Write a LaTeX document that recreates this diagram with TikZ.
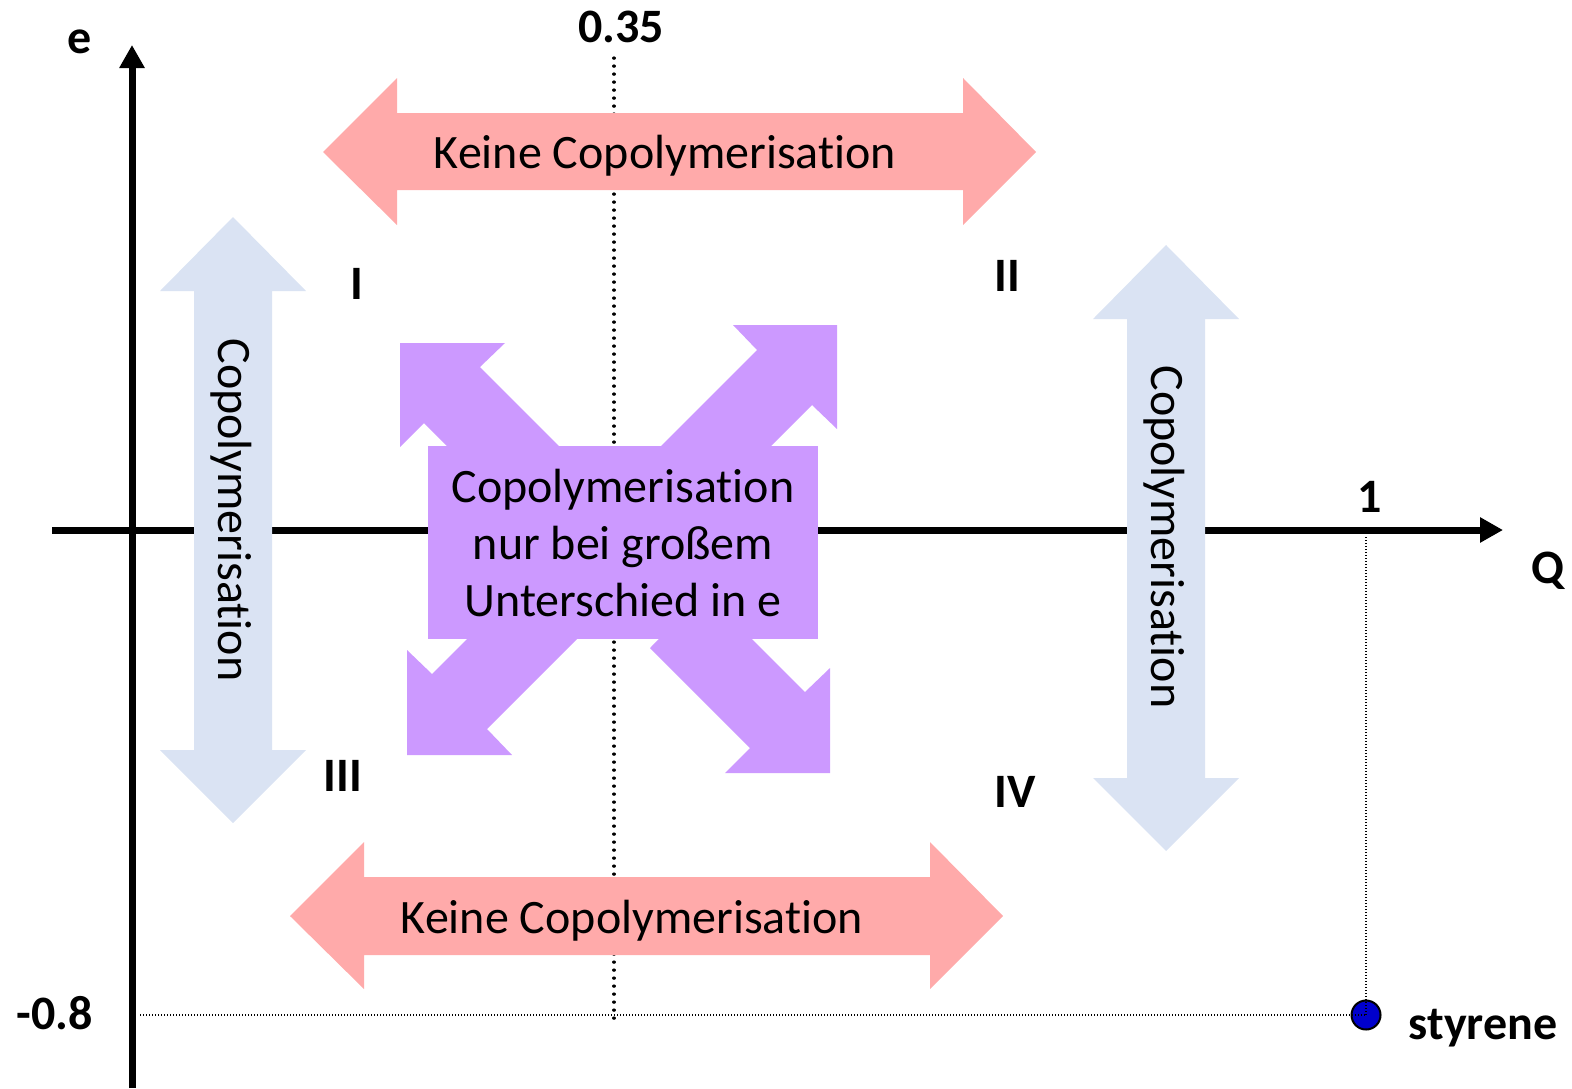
\documentclass[tikz,border=0pt]{standalone}
\usepackage{fontspec}
\setmainfont{Carlito}[Ligatures={NoCommon}]
\usepackage{tikz}
\usetikzlibrary{arrows.meta, positioning}

\definecolor{keinepink}{RGB}{255,170,170}
\definecolor{copoblue}{RGB}{218,227,243}
\definecolor{bothpurple}{RGB}{204,153,255}
\definecolor{styreneblue}{RGB}{0,0,204}

\tikzset{
	axisline/.style={line width=3.5pt, -{Triangle[length=11.5pt,width=12pt]}},
	guideline/.style={line width=1.6pt, line cap=round, dash pattern=on 0.1pt off 3.9pt},
	thinguide/.style={line width=0.6pt, dash pattern=on 0.6pt off 0.9pt},
	pinkarrow/.style={fill=keinepink},
	bluearrow/.style={fill=copoblue},
	purplearrow/.style={fill=bothpurple},
	areatext/.style={font=\fontsize{24}{28.5}\selectfont, inner sep=0pt},
	axislabel/.style={font=\fontsize{24}{28.5}\selectfont\bfseries, inner sep=0pt},
}

\begin{document}
\begin{tikzpicture}[x=0.5pt, y=-0.5pt]
	\useasboundingbox (0,0) rectangle (1572,1088);
	%
	% guide lines
	\coordinate (g35top) at (614,58);
	\coordinate (g35bot) at (614,1025);
	\draw[guideline] (g35top) -- (g35bot);
	%
	% axes
	\coordinate (ebot) at (132,1088);
	\coordinate (etop) at (132,45);
	\coordinate (qleft) at (52,530);
	\coordinate (qright) at (1503,530);
	\draw[axisline] (ebot) -- (etop);
	\draw[axisline] (qleft) -- (qright);
	%
	% Keine Copolymerisation
	\fill[pinkarrow] (323,152) -- (397,78) -- (397,113) -- (963,113) -- (963,78) -- (1036,152)
		-- (963,225) -- (963,190) -- (397,190) -- (397,225) -- cycle;
	\node[areatext] (keinetop) at (665,156) {Keine Copolymerisation};
	%
	\fill[pinkarrow] (290,916) -- (364,842) -- (364,877) -- (930,877) -- (930,842) -- (1003,916)
		-- (930,989) -- (930,955) -- (364,955) -- (364,989) -- cycle;
	\node[areatext] (keinebot) at (632,921) {Keine Copolymerisation};
	%
	% Copolymerisation
	\fill[bluearrow] (233,217) -- (306,291) -- (272,291) -- (272,750) -- (306,750) -- (233,823)
		-- (160,750) -- (194,750) -- (194,291) -- (160,291) -- cycle;
	\node[areatext, rotate=-90] (copoleft) at (231,510) {Copolymerisation};
	%
	\fill[bluearrow] (1166,245) -- (1239,319) -- (1205,319) -- (1205,778) -- (1239,778) -- (1166,851)
		-- (1093,778) -- (1127,778) -- (1127,319) -- (1093,319) -- cycle;
	\node[areatext, rotate=-90] (coporight) at (1164,537) {Copolymerisation};
	%
	% diagonal arrows
	\fill[purplearrow] (400,343) -- (505,343) -- (480,367) -- (580,467) -- (524,523) -- (424,423) -- (400,447) -- cycle;
	\fill[purplearrow] (837,325) -- (733,325) -- (757,350) -- (657,450) -- (712,505) -- (812,405) -- (837,429) -- cycle;
	\fill[purplearrow] (407,755) -- (407,650) -- (432,674) -- (532,574) -- (587,629) -- (487,729) -- (512,755) -- cycle;
	\fill[purplearrow] (830,773) -- (830,668) -- (805,692) -- (705,592) -- (650,648) -- (750,748) -- (725,773) -- cycle;
	\node[areatext, purplearrow, minimum width=195pt, minimum height=96.5pt, align=center] (nurbei) at (623,542.5)
		{Copolymerisation\\nur bei gro\ss em\\Unterschied in e};
	%
	% styrene
	\coordinate (stypos) at (1366,1015);
	\coordinate (g1top) at (1366,537);
	\coordinate (g08left) at (140,1015);
	\node[circle, fill=styreneblue, draw=black, line width=1pt, minimum size=14.5pt, inner sep=0pt] (styrene) at (stypos) {};
	\draw[thinguide] (g1top) -- (stypos);
	\draw[thinguide] (g08left) -- (stypos);
	%
	% labels
	\node[axislabel] (elabel) at (80,42) {e};
	\node[axislabel] (qlabel) at (1548,571) {Q};
	\node[axislabel] (tick35) at (621,27) {0.35};
	\node[axislabel] (tick1) at (1370,497) {1};
	\node[axislabel] (tick08) at (55,1013) {-0.8};
	\node[axislabel] (stylabel) at (1483,1028) {styrene};
	%
	\node[axislabel] (quadI) at (357,284) {I};
	\node[axislabel] (quadII) at (1007,276) {II};
	\node[axislabel] (quadIII) at (343,776) {III};
	\node[axislabel] (quadIV) at (1015,792) {IV};
\end{tikzpicture}
\end{document}
